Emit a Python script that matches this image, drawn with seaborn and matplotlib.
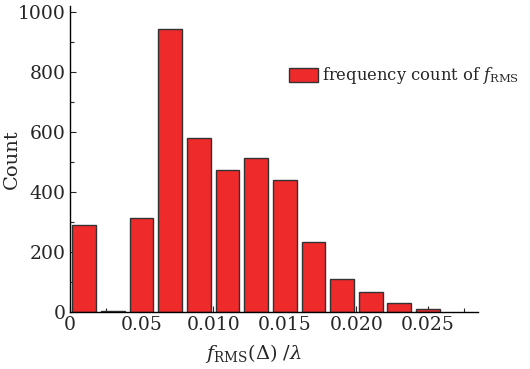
import numpy as np
import pandas as pd
import matplotlib
matplotlib.use("Agg")
import matplotlib.pyplot as plt
import seaborn as sns
from matplotlib.ticker import MultipleLocator

# histogram data
bin_centers = [0.001, 0.003, 0.005, 0.007, 0.009, 0.011, 0.013,
               0.015, 0.017, 0.019, 0.021, 0.023, 0.025]
counts = [288, 4, 312, 942, 579, 473, 512, 439, 234, 109, 67, 30, 9]
x_ticks = [0, 0.005, 0.010, 0.015, 0.020, 0.025]
x_tick_labels = ["0", "0.05", "0.010", "0.015", "0.020", "0.025"]
y_ticks = [0, 200, 400, 600, 800, 1000]

df = pd.DataFrame({"f": bin_centers, "n": counts})

sns.set_style("ticks")
plt.rcParams["font.family"] = ["DejaVu Serif"]
plt.rcParams["mathtext.fontset"] = "dejavuserif"

fig = plt.figure(figsize=(5.30, 3.69), dpi=100)
ax = fig.add_axes([0.132, 0.155, 0.77, 0.83])

sns.histplot(data=df, x="f", weights="n", binwidth=0.002, binrange=(0, 0.026),
             shrink=0.83, color="#ee2a2b", alpha=1, edgecolor="#333333",
             linewidth=1.0, label=r"frequency count of $f_{\mathrm{RMS}}$", ax=ax)

ax.set_xlim(0, 0.0285)
ax.set_ylim(0, 1020)
ax.set_xticks(x_ticks)
ax.set_xticklabels(x_tick_labels)
ax.set_yticks(y_ticks)
ax.xaxis.set_minor_locator(MultipleLocator(0.0025))
ax.yaxis.set_minor_locator(MultipleLocator(100))
ax.tick_params(direction="in", which="both", labelsize=13.5, pad=3)
ax.tick_params(which="major", length=4, width=0.8)
ax.tick_params(which="minor", length=3, width=0.8)
sns.despine(ax=ax)
for s in ["left", "bottom"]:
    ax.spines[s].set_linewidth(1.0)
    ax.spines[s].set_color("black")

ax.set_xlabel(r"$f_{\mathrm{RMS}}(\Delta)\ /\lambda$", fontsize=14)
ax.xaxis.set_label_coords(0.45, -0.1)
ax.set_ylabel("Count", fontsize=14)
ax.yaxis.set_label_coords(-0.12, 0.5)

ax.legend(loc="center left", bbox_to_anchor=(0.52, 0.77), frameon=False,
          fontsize=11.8, handlelength=1.8, handleheight=0.9, handletextpad=0.2,
          borderaxespad=0)

fig.savefig("out.png", dpi=100)
